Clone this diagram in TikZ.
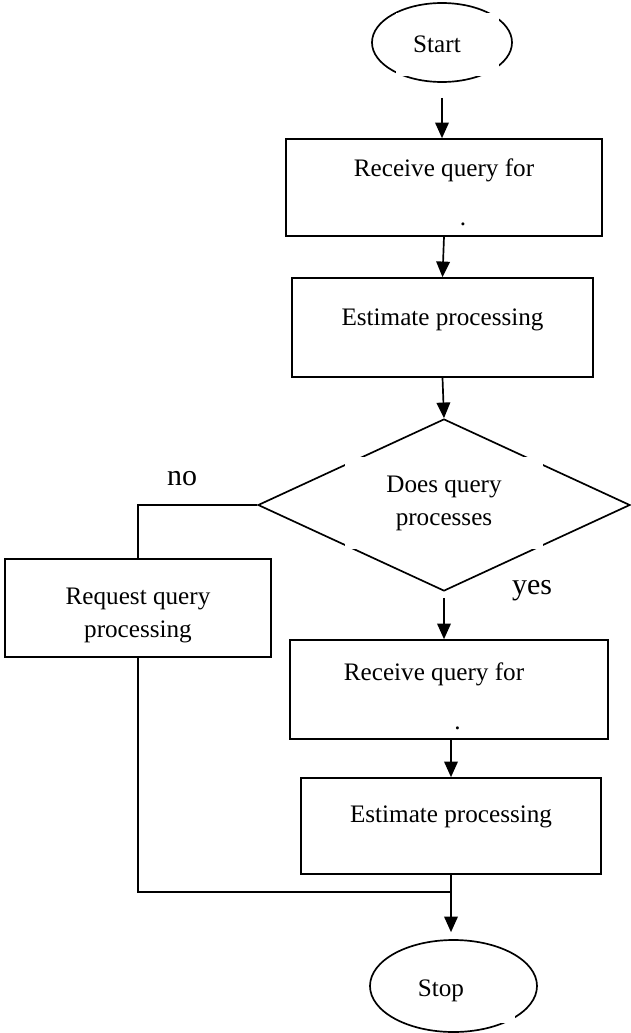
\documentclass[tikz,border=0pt]{standalone}
\usepackage{fontspec}
\setmainfont{Liberation Serif}
\usetikzlibrary{shapes.geometric,arrows.meta}
\begin{document}
\begin{tikzpicture}[
    line width=1.2pt,
    every node/.style={font=\fontsize{17.9}{23.5}\selectfont},
    procbox/.style={draw,rectangle,align=center,inner sep=0pt},
    termbox/.style={draw,ellipse,inner sep=0pt},
    choice/.style={draw,diamond,inner sep=0pt},
    gapbox/.style={fill=white,align=center,inner sep=0pt},
    flow/.style={-{Triangle[width=3.4mm,length=3.9mm]}},
    answer/.style={font=\fontsize{21.3}{25}\selectfont}
  ]
    \useasboundingbox (0,0) rectangle (15.75,-25.825);
    % start
    \node [termbox,minimum width=3.5cm,minimum height=1.975cm] (start) at (11.05,-1.0625) {};
    \node [gapbox,minimum width=2.575cm,minimum height=1.575cm] (starttxt) at (11.1875,-1.1125) {Start\hspace*{0.525cm}\null};
    % first pair of boxes
    \node [procbox,minimum width=7.9cm,minimum height=2.425cm] (recv1) at (11.1,-4.6875)
     {Receive query for\rule{0pt}{0.7cm}\\[0.4cm]\hspace*{0.95cm}.};
    \node [procbox,minimum width=7.525cm,minimum height=2.475cm] (est1) at (11.0625,-8.1875)
     {Estimate processing\rule{0pt}{0.75cm}\\\null};
    % decision
    \node [choice,minimum width=9.3cm,minimum height=4.3cm] (decide) at (11.1,-12.625) {};
    \node [gapbox,minimum width=4.95cm,minimum height=2.3cm] (asktxt) at (11.1,-12.575) {Does query\\processes};
    \node [answer] (nolbl) at (4.55,-11.975) {no};
    \node [answer] (yeslbl) at (13.3,-14.775) {yes};
    % no branch
    \node [procbox,minimum width=6.65cm,minimum height=2.45cm] (reqbox) at (3.45,-15.2)
     {Request query\rule{0pt}{0.8cm}\\processing};
    % yes branch
    \node [procbox,minimum width=7.95cm,minimum height=2.475cm] (recv2) at (11.225,-17.2375)
     {Receive query for\hspace*{0.75cm}\rule{0pt}{0.8cm}\\[0.4cm]\hspace*{0.42cm}.};
    \node [procbox,minimum width=7.5cm,minimum height=2.4cm] (est2) at (11.275,-20.65)
     {Estimate processing\rule{0pt}{0.65cm}\\\null};
    % stop
    \node [termbox,minimum width=4.175cm,minimum height=2.3cm] (stop) at (11.3375,-24.65) {};
    \node [gapbox,minimum width=2.625cm,minimum height=1.625cm] (stoptxt) at (11.5625,-24.7625) {Stop\hspace*{1.075cm}\null};
    \coordinate (join) at (11.3,-22.3);
    % main column
    \draw [flow,shorten <=0.375cm] (start.south) -- (start.south |- recv1.north);
    \draw [flow] (recv1.south) -- (est1.north);
    \draw [flow] (est1.south) -- (decide.north);
    \draw [flow,shorten <=0.15cm] (decide.south) -- (decide.south |- recv2.north);
    \draw [flow] (est2.north |- recv2.south) -- (est2.north);
    \draw [flow,shorten >=0.175cm] (est2.south) -- (est2.south |- stop.north);
    % no branch lines
    \draw (decide.west) -| (reqbox.north);
    \draw (reqbox.south) |- (join);
  \end{tikzpicture}
\end{document}
